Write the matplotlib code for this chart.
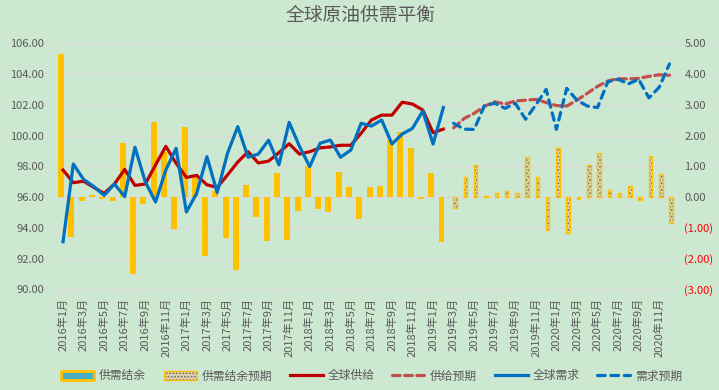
import matplotlib

matplotlib.use("Agg")

import matplotlib.pyplot as plt
import numpy as np
from matplotlib.patches import Patch
from matplotlib.lines import Line2D

plt.rcParams["font.family"] = ["Noto Sans CJK SC", "DejaVu Sans"]
plt.rcParams["hatch.color"] = "#6e6a60"
plt.rcParams["hatch.linewidth"] = 0.9

# categories: 2016-01 .. 2020-12
months = [f"{y}年{m}月" for y in range(2016, 2021) for m in range(1, 13)]

# actual supply/demand (2016-01 .. 2019-02), left axis
supply = [97.76, 96.94, 97.03, 96.63, 96.24, 96.85, 97.80, 96.76, 96.85, 98.09,
          99.30, 98.20, 97.28, 97.41, 96.80, 96.63, 97.44, 98.28, 98.95, 98.22,
          98.34, 98.89, 99.47, 98.80, 98.95, 99.20, 99.26, 99.37, 99.37, 100.15,
          101.01, 101.33, 101.33, 102.17, 102.05, 101.66, 100.19, 100.42]
demand = [93.10, 98.15, 97.15, 96.68, 96.11, 96.85, 96.03, 99.24, 97.00, 95.68,
          97.76, 99.17, 95.03, 96.24, 98.63, 96.29, 98.85, 100.58, 98.59, 98.80,
          99.70, 98.10, 100.86, 99.30, 97.98, 99.50, 99.71, 98.59, 99.06, 100.80,
          100.62, 101.01, 99.45, 100.10, 100.47, 101.60, 99.45, 101.82]
# actual balance, right axis
balance = [4.64, -1.30, -0.13, 0.07, -0.05, -0.12, 1.75, -2.50, -0.23, 2.43,
           1.45, -1.04, 2.28, 0.73, -1.93, 0.20, -1.34, -2.36, 0.39, -0.65,
           -1.43, 0.78, -1.41, -0.46, 1.00, -0.39, -0.50, 0.81, 0.33, -0.72,
           0.33, 0.37, 1.86, 2.12, 1.59, -0.05, 0.77, -1.46]

# forecasts (2019-03 .. 2020-12)
supply_fc = [100.50, 101.10, 101.45, 101.90, 102.20, 102.05, 102.25, 102.30,
             102.35, 102.15, 101.95, 101.92, 102.30, 102.75, 103.20, 103.55,
             103.70, 103.68, 103.72, 103.85, 103.95, 103.92]
demand_fc = [100.80, 100.42, 100.40, 101.95, 102.10, 101.77, 102.10, 101.06,
             102.00, 103.00, 100.40, 103.07, 102.30, 101.92, 101.82, 103.50,
             103.66, 103.36, 103.66, 102.45, 103.14, 104.66]
balance_fc = [-0.34, 0.64, 1.03, 0.04, 0.12, 0.19, 0.12, 1.29, 0.64, -1.08,
              1.60, -1.17, -0.05, 1.05, 1.44, 0.24, 0.14, 0.37, -0.09, 1.34,
              0.76, -0.83]

left_ticks = np.arange(90, 107, 2)
right_ticks = np.arange(-3, 6, 1)

bg = "#cde8d0"
grey = "#595959"

x_act = np.arange(len(supply))
x_fc = np.arange(len(supply), len(supply) + len(supply_fc))

fig = plt.figure(figsize=(7.19, 3.90), dpi=100, facecolor=bg)
ax = fig.add_axes([0.0805, 0.258, 0.8578, 0.631])
ax2 = ax.twinx()
ax.set_zorder(2)
ax2.set_zorder(1)
ax.patch.set_visible(False)
ax2.patch.set_visible(False)

# bars on the right axis
ax2.bar(x_act - 0.18, balance, width=0.58, color="#ffc000", zorder=2)
fc_fill = ax2.bar(x_fc + 0.15, balance_fc, width=0.34, color="#e2d6b4",
                  hatch=".....", linewidth=0, zorder=2)
fc_edge = ax2.bar(x_fc + 0.15, balance_fc, width=0.34, fill=False,
                  edgecolor="#ffc000", linewidth=1.0, zorder=3)

# lines on the left axis
ax.plot(x_act, supply, color="#c00000", lw=2.3, solid_joinstyle="round")
ax.plot(x_fc, supply_fc, color="#c0504d", lw=2.3, dashes=(2.4, 1.4),
        dash_capstyle="round")
ax.plot(x_act, demand, color="#0070c0", lw=2.3, solid_joinstyle="round")
ax.plot(x_fc, demand_fc, color="#0070c0", lw=2.3, dashes=(2.4, 1.8),
        dash_capstyle="round")

ax.set_xlim(-0.5, len(months) - 0.5)
ax.set_ylim(90, 106)
ax2.set_ylim(-3, 5)

ax.set_yticks(left_ticks, [f"{v:.2f}" for v in left_ticks])
right_labels = [f"{v:.2f}" if v >= 0 else f"({abs(v):.2f})" for v in right_ticks]
ax2.set_yticks(right_ticks, right_labels)
for lab, v in zip(ax2.get_yticklabels(), right_ticks):
    lab.set_color("#ff0000" if v < 0 else grey)

ax2.yaxis.grid(True, color="#d9d9d9", lw=0.9)
ax2.set_axisbelow(True)

ax.set_xticks(np.arange(0, len(months), 2), months[::2], rotation=90)
ax.set_xticks(np.arange(-0.5, len(months), 2), minor=True)
ax.tick_params(axis="x", which="major", length=0, pad=6, labelsize=8,
               labelcolor=grey)
ax.tick_params(axis="x", which="minor", length=4, color="#d9d9d9", width=0.9)
ax.tick_params(axis="y", length=0, pad=10, labelsize=8, labelcolor=grey)
ax2.tick_params(axis="y", length=0, pad=7, labelsize=8)

for sp in ax.spines.values():
    sp.set_visible(False)
for sp in ax2.spines.values():
    sp.set_visible(False)
ax.spines["bottom"].set_visible(True)
ax.spines["bottom"].set_color("#d9d9d9")

fig.text(0.502, 0.960, "全球原油供需平衡", ha="center", va="center",
         fontsize=13.5, color=grey)

handles = [
    Patch(facecolor="#4bacc6", edgecolor="#ffc000", linewidth=2),
    (fc_fill, fc_edge),
    Line2D([], [], color="#c00000", lw=2.3),
    Line2D([], [], color="#c0504d", lw=2.3, dashes=(2.4, 1.4),
           dash_capstyle="round"),
    Line2D([], [], color="#0070c0", lw=2.3),
    Line2D([], [], color="#0070c0", lw=2.3, dashes=(2.4, 1.8),
           dash_capstyle="round"),
]
labels = ["供需结余", "供需结余预期", "全球供给", "供给预期", "全球需求", "需求预期"]
fig.legend(handles, labels, loc="center", bbox_to_anchor=(0.517, 0.036),
           ncol=6, frameon=False, fontsize=8.5, labelcolor=grey,
           handlelength=2.8, handleheight=0.75, handletextpad=0.4,
           columnspacing=1.5)

fig.savefig("out.png", dpi=100, facecolor=bg)
